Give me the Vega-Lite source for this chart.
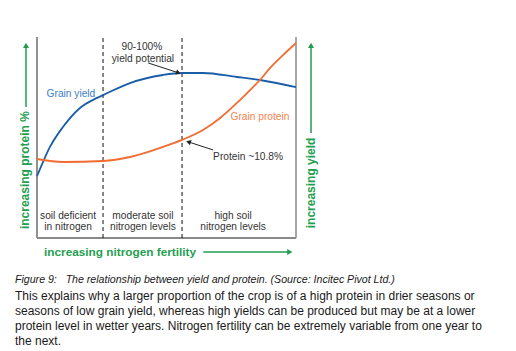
{
  "$schema": "https://vega.github.io/schema/vega-lite/v6.json",
  "width": 259,
  "height": 201,
  "autosize": {"type": "none"},
  "padding": {"left": 37, "top": 37, "right": 220, "bottom": 113},
  "background": "white",
  "config": {"view": {"stroke": null}, "font": "Liberation Sans"},
  "title": {
    "text": "Figure 9:\u00a0\u00a0 The relationship between yield and protein. (Source: Incitec Pivot Ltd.)",
    "subtitle": [
      "This explains why a larger proportion of the crop is of a high protein in drier seasons or",
      "seasons of low grain yield, whereas high yields can be produced but may be at a lower",
      "protein level in wetter years. Nitrogen fertility can be extremely variable from one year to",
      "the next."
    ],
    "orient": "bottom",
    "anchor": "start",
    "frame": "group",
    "dx": -22,
    "offset": 16,
    "font": "Liberation Sans",
    "fontSize": 10.6,
    "fontStyle": "italic",
    "fontWeight": "normal",
    "color": "#1a1a1a",
    "subtitleFont": "Liberation Sans",
    "subtitleFontSize": 12,
    "subtitleColor": "#1a1a1a",
    "subtitleLineHeight": 15,
    "subtitlePadding": 6
  },
  "resolve": {"scale": {"color": "independent", "strokeWidth": "independent"}},
  "datasets": {
    "frame": [
      {"edge": "left", "n": 0, "v": 0, "n2": 0, "v2": 100},
      {"edge": "right", "n": 100, "v": 0, "n2": 100, "v2": 100},
      {"edge": "bottom", "n": 0, "v": 0, "n2": 100, "v2": 0}
    ],
    "dividers": [
      {"n": 25.5, "v": 0, "v2": 100.5},
      {"n": 56.0, "v": 0, "v2": 100.5}
    ],
    "curves": [
      {"series": "Grain yield", "n": 0, "v": 30.8},
      {"series": "Grain yield", "n": 2.3, "v": 37.8},
      {"series": "Grain yield", "n": 5.0, "v": 45.3},
      {"series": "Grain yield", "n": 10.0, "v": 55.2},
      {"series": "Grain yield", "n": 16.6, "v": 64.7},
      {"series": "Grain yield", "n": 23.2, "v": 69.7},
      {"series": "Grain yield", "n": 25.5, "v": 71.1},
      {"series": "Grain yield", "n": 35.9, "v": 77.1},
      {"series": "Grain yield", "n": 48.6, "v": 81.1},
      {"series": "Grain yield", "n": 56.0, "v": 82.1},
      {"series": "Grain yield", "n": 64.1, "v": 82.1},
      {"series": "Grain yield", "n": 77.2, "v": 80.1},
      {"series": "Grain yield", "n": 86.1, "v": 78.6},
      {"series": "Grain yield", "n": 100, "v": 75.1},
      {"series": "Grain protein", "n": 0, "v": 39.3},
      {"series": "Grain protein", "n": 10.0, "v": 37.8},
      {"series": "Grain protein", "n": 25.5, "v": 38.3},
      {"series": "Grain protein", "n": 35.9, "v": 40.3},
      {"series": "Grain protein", "n": 48.6, "v": 45.3},
      {"series": "Grain protein", "n": 56.0, "v": 48.8},
      {"series": "Grain protein", "n": 64.1, "v": 53.7},
      {"series": "Grain protein", "n": 70.7, "v": 59.7},
      {"series": "Grain protein", "n": 77.2, "v": 67.2},
      {"series": "Grain protein", "n": 83.4, "v": 75.1},
      {"series": "Grain protein", "n": 86.1, "v": 78.6},
      {"series": "Grain protein", "n": 90.0, "v": 84.6},
      {"series": "Grain protein", "n": 95.0, "v": 91.0},
      {"series": "Grain protein", "n": 100, "v": 97.0}
    ],
    "pointers": [
      {"label": "yield potential", "n": 42.9, "v": 87.1, "n2": 54.6, "v2": 82.2},
      {"label": "protein", "n": 68.0, "v": 43.8, "n2": 58.5, "v2": 47.8}
    ],
    "axisArrows": [
      {"axis": "protein", "n": -4.25, "v": 65.2, "n2": -4.25, "v2": 95.8},
      {"axis": "yield", "n": 105.8, "v": 52.2, "n2": 105.8, "v2": 95.8},
      {"axis": "fertility", "n": 64.2, "v": -7.0, "n2": 97.6, "v2": -7.0}
    ],
    "regions": [
      {"text": "soil deficient", "n": 12.0, "v": 10.9},
      {"text": "in nitrogen", "n": 12.0, "v": 5.4},
      {"text": "moderate soil", "n": 40.9, "v": 10.9},
      {"text": "nitrogen levels", "n": 40.9, "v": 5.4},
      {"text": "high soil", "n": 75.7, "v": 10.9},
      {"text": "nitrogen levels", "n": 75.7, "v": 5.4}
    ],
    "notes": [
      {"text": "90-100%", "n": 40.5, "v": 95.0},
      {"text": "yield potential", "n": 40.9, "v": 89.1}
    ],
    "proteinNote": [
      {"text": "Protein ~10.8%", "n": 68.0, "v": 40.3}
    ],
    "seriesLabels": [
      {"series": "Grain yield", "n": 13.1, "v": 71.6},
      {"series": "Grain protein", "n": 86.1, "v": 60.2}
    ],
    "vAxisTitles": [
      {"text": "increasing protein %", "n": -4.6, "v": 33.8},
      {"text": "increasing yield", "n": 105.8, "v": 27.4}
    ],
    "hAxisTitles": [
      {"text": "increasing nitrogen fertility", "n": 2.7, "v": -7.0}
    ]
  },
  "encoding": {
    "x": {"field": "n", "type": "quantitative", "scale": {"domain": [0, 100], "nice": false, "zero": false}, "axis": null},
    "y": {"field": "v", "type": "quantitative", "scale": {"domain": [0, 100], "nice": false, "zero": false}, "axis": null}
  },
  "layer": [
    {
      "data": {"name": "frame"},
      "mark": {"type": "rule"},
      "encoding": {
        "x2": {"field": "n2"},
        "y2": {"field": "v2"},
        "color": {"field": "edge", "type": "nominal", "scale": {"domain": ["left", "right", "bottom"], "range": ["#222222", "#8a8a8a", "#8a8a8a"]}, "legend": null},
        "strokeWidth": {"field": "edge", "type": "nominal", "scale": {"domain": ["left", "right", "bottom"], "range": [1, 2, 2]}, "legend": null}
      }
    },
    {
      "data": {"name": "dividers"},
      "mark": {"type": "rule", "color": "#111111", "strokeWidth": 1, "strokeDash": [4, 3]},
      "encoding": {"y2": {"field": "v2"}}
    },
    {
      "data": {"name": "curves"},
      "mark": {"type": "line", "interpolate": "monotone", "strokeWidth": 1.8},
      "encoding": {
        "color": {"field": "series", "type": "nominal", "scale": {"domain": ["Grain yield", "Grain protein"], "range": ["#1b5ea8", "#f26b30"]}, "legend": null},
        "order": {"field": "n", "type": "quantitative"}
      }
    },
    {
      "data": {"name": "pointers"},
      "mark": {"type": "rule", "color": "#222222", "strokeWidth": 1},
      "encoding": {"x2": {"field": "n2"}, "y2": {"field": "v2"}}
    },
    {
      "data": {"name": "pointers"},
      "transform": [{"filter": "datum.label === 'yield potential'"}],
      "mark": {"type": "point", "shape": "triangle-up", "filled": true, "color": "#222222", "size": 30, "angle": 109, "opacity": 1},
      "encoding": {"x": {"field": "n2", "type": "quantitative"}, "y": {"field": "v2", "type": "quantitative"}}
    },
    {
      "data": {"name": "pointers"},
      "transform": [{"filter": "datum.label === 'protein'"}],
      "mark": {"type": "point", "shape": "triangle-up", "filled": true, "color": "#222222", "size": 30, "angle": 288, "opacity": 1},
      "encoding": {"x": {"field": "n2", "type": "quantitative"}, "y": {"field": "v2", "type": "quantitative"}}
    },
    {
      "data": {"name": "axisArrows"},
      "mark": {"type": "rule", "color": "#1f9f50", "strokeWidth": 1.5},
      "encoding": {"x2": {"field": "n2"}, "y2": {"field": "v2"}}
    },
    {
      "data": {"name": "axisArrows"},
      "transform": [{"filter": "datum.axis !== 'fertility'"}],
      "mark": {"type": "point", "shape": "triangle-up", "filled": true, "color": "#1f9f50", "size": 36, "opacity": 1},
      "encoding": {"x": {"field": "n2", "type": "quantitative"}, "y": {"field": "v2", "type": "quantitative"}}
    },
    {
      "data": {"name": "axisArrows"},
      "transform": [{"filter": "datum.axis === 'fertility'"}],
      "mark": {"type": "point", "shape": "triangle-right", "filled": true, "color": "#1f9f50", "size": 36, "opacity": 1},
      "encoding": {"x": {"field": "n2", "type": "quantitative"}, "y": {"field": "v2", "type": "quantitative"}}
    },
    {
      "data": {"name": "regions"},
      "mark": {"type": "text", "fontSize": 10.2, "color": "#333333", "align": "center", "baseline": "middle"},
      "encoding": {"text": {"field": "text"}}
    },
    {
      "data": {"name": "notes"},
      "mark": {"type": "text", "fontSize": 10.2, "color": "#333333", "align": "center", "baseline": "middle"},
      "encoding": {"text": {"field": "text"}}
    },
    {
      "data": {"name": "proteinNote"},
      "mark": {"type": "text", "fontSize": 10.2, "color": "#333333", "align": "left", "baseline": "middle"},
      "encoding": {"text": {"field": "text"}}
    },
    {
      "data": {"name": "seriesLabels"},
      "mark": {"type": "text", "fontSize": 10.2, "align": "center", "baseline": "middle"},
      "encoding": {
        "text": {"field": "series"},
        "color": {"field": "series", "type": "nominal", "scale": {"domain": ["Grain yield", "Grain protein"], "range": ["#3b80c8", "#f4824e"]}, "legend": null}
      }
    },
    {
      "data": {"name": "vAxisTitles"},
      "mark": {"type": "text", "fontSize": 12, "fontWeight": "bold", "color": "#1f9f50", "align": "center", "baseline": "middle", "angle": 270},
      "encoding": {"text": {"field": "text"}}
    },
    {
      "data": {"name": "hAxisTitles"},
      "mark": {"type": "text", "fontSize": 11.8, "fontWeight": "bold", "color": "#1f9f50", "align": "left", "baseline": "middle"},
      "encoding": {"text": {"field": "text"}}
    }
  ]
}
